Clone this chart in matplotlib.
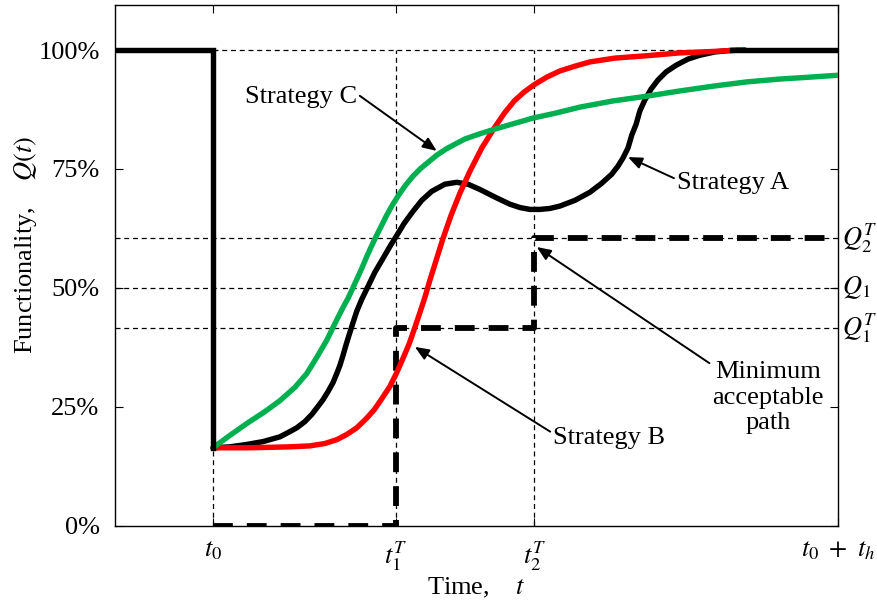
import numpy as np
import matplotlib
matplotlib.use("Agg")
import matplotlib.pyplot as plt

plt.rc("font", family=["Liberation Serif", "DejaVu Serif"])
plt.rc("font", size=19)
plt.rc("mathtext", fontset="stix")

# time marks (t0 = 0, t0 + th = 10)
t0 = 0.0
t1 = 2.93
t2 = 5.14
t_end = 10.0
x_left = -1.57

# functionality levels (%)
q_drop = 16.4
q1_T = 41.5
q1 = 50.0
q2_T = 60.5

# Strategy A (black)
a_x = [0, 0.27, 0.54, 0.80, 1.07, 1.23, 1.34, 1.47, 1.58, 1.68, 1.76, 1.84, 1.92,
       1.98, 2.03, 2.08, 2.13, 2.18, 2.24, 2.30, 2.38, 2.48, 2.59, 2.72, 2.83,
       2.93, 3.06, 3.20, 3.34, 3.50, 3.71, 3.90, 4.08, 4.27, 4.51, 4.75, 4.91,
       5.07, 5.23, 5.39, 5.55, 5.79, 6.03, 6.22, 6.38, 6.48, 6.56, 6.64, 6.70,
       6.77, 6.83, 6.91, 7.01, 7.12, 7.25, 7.41, 7.60, 7.79, 8.03, 8.27, 8.51]
a_y = [16.4, 16.6, 17.1, 17.7, 18.7, 19.8, 20.6, 21.9, 23.4, 25.1, 26.5, 28.2, 30.1,
       32.0, 33.7, 35.8, 38.1, 40.2, 42.7, 45.1, 47.6, 50.3, 53.3, 56.2, 58.7,
       60.8, 63.6, 66.1, 68.4, 70.3, 71.8, 72.2, 71.8, 70.7, 69.1, 67.6, 66.9,
       66.5, 66.5, 66.7, 67.2, 68.4, 70.1, 72.0, 73.9, 75.6, 77.3, 79.4, 82.1,
       84.4, 87.2, 89.5, 91.8, 93.7, 95.4, 96.8, 98.1, 98.9, 99.6, 99.9, 100.0]

# Strategy B (red)
b_x = [0, 0.59, 1.23, 1.55, 1.79, 1.98, 2.14, 2.30, 2.45, 2.58, 2.70, 2.83, 2.94,
       3.04, 3.14, 3.23, 3.31, 3.39, 3.47, 3.57, 3.68, 3.81, 3.95, 4.11, 4.30,
       4.50, 4.66, 4.82, 4.98, 5.15, 5.34, 5.55, 5.79, 6.03, 6.43, 6.94, 7.47,
       8.00, 8.43]
b_y = [16.4, 16.4, 16.6, 16.8, 17.3, 18.1, 19.2, 20.6, 22.5, 24.4, 26.7, 29.3, 32.2,
       35.2, 38.3, 41.7, 44.8, 48.0, 51.6, 55.8, 60.4, 65.3, 69.9, 74.5, 79.4,
       83.6, 86.7, 89.3, 91.2, 92.8, 94.3, 95.6, 96.6, 97.5, 98.3, 98.8, 99.4,
       99.7, 100.0]

# Strategy C (green)
c_x = [0, 0.27, 0.54, 0.83, 1.07, 1.31, 1.50, 1.66, 1.82, 1.95, 2.08, 2.16, 2.22,
       2.30, 2.38, 2.46, 2.54, 2.62, 2.70, 2.78, 2.86, 2.96, 3.07, 3.20, 3.33,
       3.46, 3.58, 3.73, 3.87, 4.03, 4.27, 4.54, 4.83, 5.12, 5.47, 5.87, 6.40,
       6.94, 7.47, 8.00, 8.54, 9.07, 9.55, 10.0]
c_y = [16.4, 19.0, 21.5, 24.0, 26.3, 29.1, 32.0, 35.4, 39.0, 42.5, 45.9, 47.8, 49.5,
       51.8, 54.1, 56.6, 58.9, 61.1, 63.2, 65.3, 67.2, 69.3, 71.4, 73.5, 75.2,
       76.6, 77.9, 79.2, 80.2, 81.3, 82.4, 83.5, 84.6, 85.7, 86.7, 88.0, 89.3,
       90.3, 91.4, 92.4, 93.3, 93.9, 94.3, 94.7]

# minimum acceptable path
m_x = [t0, t1, t1, t2, t2, t_end]
m_y = [0, 0, q1_T, q1_T, q2_T, q2_T]

fig = plt.figure(figsize=(8.77, 6.03), dpi=100)
ax = fig.add_axes([0.131, 0.128, 0.8245, 0.864])

thin = dict(color="k", lw=0.9, ls=(0, (4, 3)), zorder=1)
ax.plot([t0, t_end], [100, 100], **thin)
for lev in [q2_T, q1, q1_T]:
    ax.plot([x_left, t_end], [lev, lev], **thin)
ax.plot([t0, t0], [0, q_drop], **thin)
ax.plot([t1, t1], [0, 100], **thin)
ax.plot([t2, t2], [0, 100], **thin)

lw = 3.9
ax.plot(m_x, m_y, color="k", lw=4.2, dashes=(3.4, 2.4), solid_capstyle="butt",
        dash_capstyle="butt", zorder=2)
ax.plot(a_x, a_y, color="k", lw=lw, solid_capstyle="round", zorder=3)
ax.plot(b_x, b_y, color="#ff0000", lw=lw, solid_capstyle="round", zorder=4)
ax.plot(c_x, c_y, color="#00b050", lw=lw, solid_capstyle="round", zorder=5)
ax.plot([x_left, t0, t0], [100, 100, q_drop], color="k", lw=lw,
        solid_joinstyle="miter", zorder=6)
ax.plot([8.3, t_end], [100, 100], color="k", lw=lw, zorder=6)

ax.set_xlim(x_left, t_end)
ax.set_ylim(0, 109.5)
ax.set_xticks([t0, t1, t2, t_end])
ax.set_xticklabels(["$t_0$", "$t_1^T$", "$t_2^T$", r"$t_0\ +\ t_h$"])
ax.set_yticks([0, 25, 50, 75, 100])
ax.set_yticklabels(["0%", "25%", "50%", "75%", "100%"])
ax.tick_params(direction="in", length=6, width=0.8, top=True, right=True)
ax.tick_params(axis="y", pad=11)
ax.tick_params(axis="x", pad=10)
for s in ax.spines.values():
    s.set_linewidth(1.0)

ax.set_xlabel("Time,    $t$", labelpad=2)
ax.set_ylabel("Functionality,    $Q(t)$")
ax.yaxis.set_label_coords(-0.105, 0.54)

for lev, lab in [(q2_T, "$Q_2^T$"), (q1, "$Q_1$"), (q1_T, "$Q_1^T$")]:
    ax.text(t_end + 0.06, lev, lab, ha="left", va="center", clip_on=False)

arrow = dict(arrowstyle="-|>,head_length=0.6,head_width=0.25", color="k", lw=1.4,
             shrinkA=0, shrinkB=0, mutation_scale=14)
ax.annotate("Strategy C", xy=(3.58, 78.8), xytext=(0.51, 90.1), ha="left",
            va="center", arrowprops=dict(arrow, relpos=(1.0, 0.65)))
ax.annotate("Strategy A", xy=(6.64, 77.5), xytext=(7.42, 72.1), ha="left",
            va="center", arrowprops=dict(arrow, relpos=(0.0, 0.65)))
ax.annotate("Strategy B", xy=(3.23, 37.6), xytext=(5.44, 18.5), ha="left",
            va="center", arrowprops=dict(arrow, relpos=(0.0, 0.7)))
ax.annotate("Minimum\nacceptable\npath", xy=(5.18, 58.6), xytext=(8.88, 26.9),
            ha="center", va="center", linespacing=1.2,
            arrowprops=dict(arrow, relpos=(0.0, 0.95)))

fig.savefig("out.png", dpi=100)
